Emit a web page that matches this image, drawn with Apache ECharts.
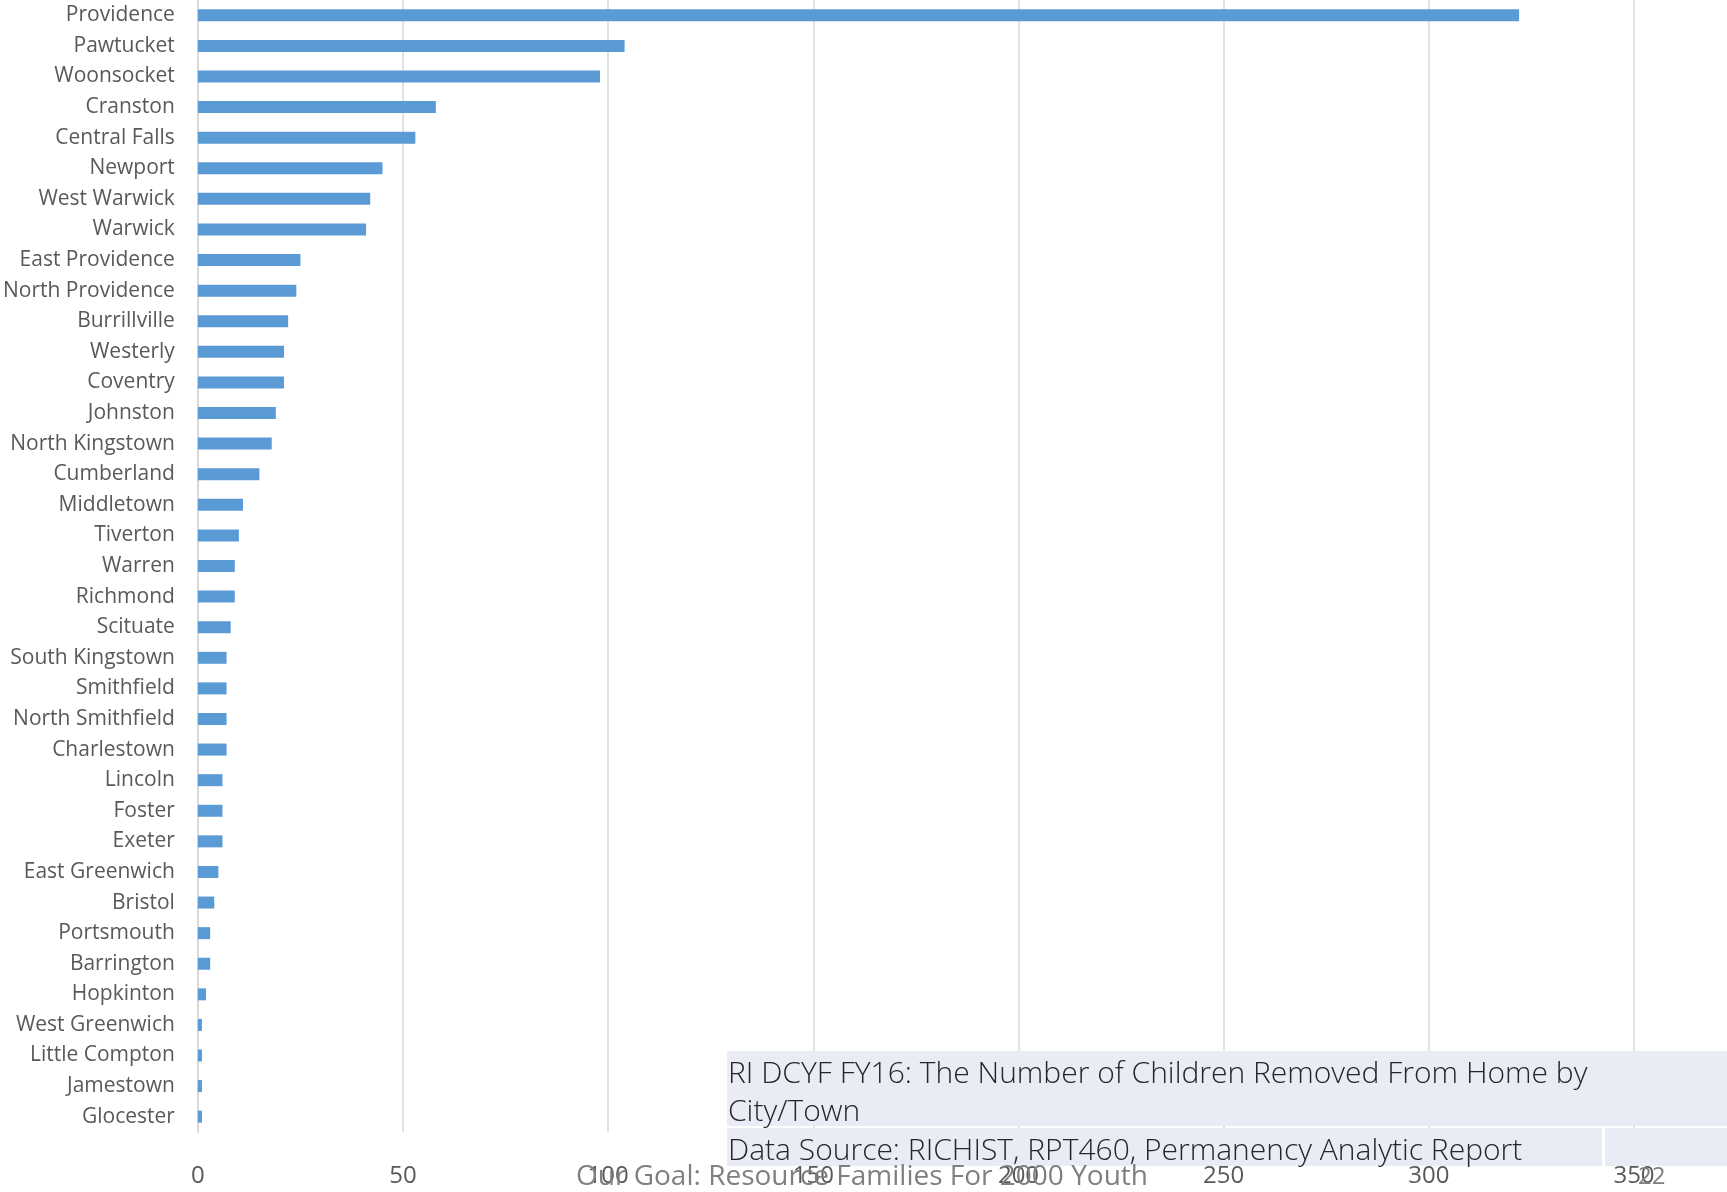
<!DOCTYPE html>
<html>
<head>
<meta charset="utf-8">
<script src="https://cdn.jsdelivr.net/npm/echarts@6/dist/echarts.min.js"></script>
<style>
html,body{margin:0;padding:0;background:#fff;}
#chart{width:1727px;height:1192px;}
</style>
</head>
<body>
<div id="chart"></div>
<script>
const cities = ["Providence","Pawtucket","Woonsocket","Cranston","Central Falls","Newport","West Warwick","Warwick","East Providence","North Providence","Burrillville","Westerly","Coventry","Johnston","North Kingstown","Cumberland","Middletown","Tiverton","Warren","Richmond","Scituate","South Kingstown","Smithfield","North Smithfield","Charlestown","Lincoln","Foster","Exeter","East Greenwich","Bristol","Portsmouth","Barrington","Hopkinton","West Greenwich","Little Compton","Jamestown","Glocester"];
const removed = [322,104,98,58,53,45,42,41,25,24,22,21,21,19,18,15,11,10,9,9,8,7,7,7,7,6,6,6,5,4,3,3,2,1,1,1,1];
const xTicks = [0,50,100,150,200,250,300,350];
const titleLine1 = "RI DCYF FY16: The Number of Children Removed From Home by";
const titleLine2 = "City/Town";
const sourceText = "Data Source: RICHIST, RPT460, Permanency Analytic Report";
const goalText = "Our Goal: Resource Families For 2000 Youth";
const pageNum = "22";

const chart = echarts.init(document.getElementById('chart'));
const font = "'Open Sans', 'Noto Sans', sans-serif";
chart.setOption({
  animation: false,
  backgroundColor: '#ffffff',
  grid: {left: 197, right: 93, top: 0, bottom: 60, containLabel: false},
  xAxis: {
    type: 'value', min: xTicks[0], max: xTicks[xTicks.length-1], interval: xTicks[1]-xTicks[0],
    axisLine: {show: false}, axisTick: {show: false},
    splitLine: {show: true, lineStyle: {color: '#D9D9D9', width: 1.5}},
    axisLabel: {color: '#595959', fontSize: 24, fontFamily: font, margin: 32}
  },
  yAxis: {
    type: 'category', data: cities, inverse: true,
    axisLine: {show: true, lineStyle: {color: '#D9D9D9', width: 2}},
    axisTick: {show: false},
    axisLabel: {color: '#595959', fontSize: 21, fontFamily: font, margin: 23}
  },
  series: [{
    type: 'bar', data: removed, barWidth: 12,
    itemStyle: {color: '#5B9BD5'}
  }],
  graphic: [
    {type: 'rect', z: 100, shape: {x: 727, y: 1051, width: 1000, height: 75}, style: {fill: '#E9ECF5'}},
    {type: 'rect', z: 100, shape: {x: 727, y: 1128, width: 875, height: 38}, style: {fill: '#E9ECF5'}},
    {type: 'rect', z: 100, shape: {x: 1605, y: 1128, width: 122, height: 38}, style: {fill: '#E9ECF5'}},
    {type: 'text', z: 101, x: 728, y: 1074, style: {text: titleLine1, fill: '#262626', font: "300 30px " + font, textVerticalAlign: 'middle'}},
    {type: 'text', z: 101, x: 728, y: 1112, style: {text: titleLine2, fill: '#262626', font: "300 30px " + font, textVerticalAlign: 'middle'}},
    {type: 'text', z: 101, x: 728, y: 1151, style: {text: sourceText, fill: '#262626', font: "300 30px " + font, textVerticalAlign: 'middle'}},
    {type: 'text', z: 101, x: 576, y: 1177, style: {text: goalText, fill: '#808080', font: "28px " + font, textVerticalAlign: 'middle'}},
    {type: 'text', z: 101, x: 1638, y: 1177, style: {text: pageNum, fill: '#808080', font: "24px " + font, textVerticalAlign: 'middle'}}
  ]
});
</script>
</body>
</html>
